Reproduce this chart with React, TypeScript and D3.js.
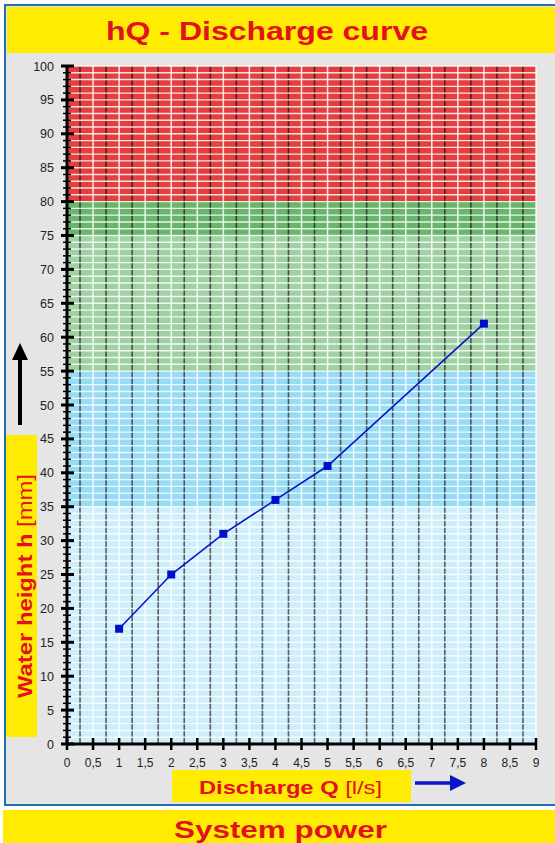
import * as d3 from "d3";

// measured points of the hQ curve
const dischargeQ = [1, 2, 3, 4, 5, 8];
const waterHeight = [17, 25, 31, 36, 41, 62];

// x axis ticks every 0.5 l/s, y axis every 5 mm
const xTickValues = d3.range(0, 9.01, 0.5);
const yTickValues = d3.range(0, 101, 5);

// background zones (mm)
const zoneLimits = [0, 35, 55, 75, 80, 100];
const zoneColors = ["#cdeefa", "#98dbf5", "#a0d1a3", "#68b66b", "#e43f3f"];

const W = 555;
const H = 843;
const FONT = "'Liberation Sans', Arial, Helvetica, sans-serif";
const RED = "#e3101e";
const YELLOW = "#ffec00";

export default function App() {
  const x = d3.scaleLinear().domain([0, 9]).range([67, 536]);
  const y = d3.scaleLinear().domain([0, 100]).range([744, 66]);

  const line = d3
    .line<number>()
    .x((_, i) => x(dischargeQ[i]))
    .y((d) => y(d));

  const fmt = (v: number) => d3.format("")(v).replace(".", ",");

  const hLines = d3.range(1, 101, 1);
  const whiteV = d3.range(0.5, 9.01, 0.5);
  const darkV = d3.range(0.25, 9, 0.5);
  const minorY = d3.range(0, 101, 1).filter((v) => v % 5 !== 0);

  return (
    <svg
      width={W}
      height={H}
      style={{ position: "absolute", left: 0, top: 0, background: "#fff" }}
      fontFamily={FONT}
    >
      {/* outer panel */}
      <rect x={5} y={5} width={560} height={800} fill="#e5e5e5" stroke="#1f6fb3" strokeWidth={2} />
      <rect x={7} y={7} width={550} height={46} fill={YELLOW} />
      <text
        x={106}
        y={40}
        fontSize={26}
        fontWeight="bold"
        fill={RED}
        textLength={322}
        lengthAdjust="spacingAndGlyphs"
      >
        hQ - Discharge curve
      </text>

      {/* zones */}
      {zoneColors.map((c, i) => (
        <rect
          key={c}
          x={x(0)}
          y={y(zoneLimits[i + 1])}
          width={x(9) - x(0)}
          height={y(zoneLimits[i]) - y(zoneLimits[i + 1])}
          fill={c}
        />
      ))}

      {/* grid */}
      {darkV.map((v) => (
        <line key={"d" + v} x1={x(v)} x2={x(v)} y1={y(100)} y2={y(0)} stroke="#000" strokeOpacity={0.6} strokeWidth={1.6} />
      ))}
      {hLines.map((v) => (
        <line key={"h" + v} x1={x(0)} x2={x(9)} y1={y(v)} y2={y(v)} stroke="#fff" strokeOpacity={0.85} strokeWidth={1.4} />
      ))}
      {whiteV.map((v) => (
        <line key={"w" + v} x1={x(v)} x2={x(v)} y1={y(100)} y2={y(0)} stroke="#fff" strokeOpacity={0.85} strokeWidth={1.5} />
      ))}

      {/* y axis */}
      <line x1={x(0)} x2={x(0)} y1={y(100) - 1} y2={y(0) + 1} stroke="#000" strokeWidth={3} />
      {minorY.map((v) => (
        <line key={"my" + v} x1={63} x2={71} y1={y(v)} y2={y(v)} stroke="#000" strokeWidth={1.5} />
      ))}
      {yTickValues.map((v) => (
        <g key={"y" + v}>
          <line x1={61} x2={74} y1={y(v)} y2={y(v)} stroke="#000" strokeWidth={3} />
          <text x={54} y={y(v) + 4.5} textAnchor="end" fontSize={12.5} fill="#222">
            {v}
          </text>
        </g>
      ))}

      {/* x axis */}
      <line x1={x(0) - 1} x2={x(9) + 1} y1={y(0)} y2={y(0)} stroke="#000" strokeWidth={3} />
      {xTickValues.map((v) => (
        <g key={"x" + v}>
          <line x1={x(v)} x2={x(v)} y1={738} y2={750} stroke="#000" strokeWidth={2.5} />
          <text x={x(v)} y={767} textAnchor="middle" fontSize={12} fill="#222">
            {fmt(v)}
          </text>
        </g>
      ))}

      {/* curve */}
      <path d={line(waterHeight) || ""} fill="none" stroke="#0a14c8" strokeWidth={1.6} />
      {waterHeight.map((v, i) => (
        <rect key={"p" + i} x={x(dischargeQ[i]) - 4} y={y(v) - 4} width={8} height={8} fill="#0010c8" />
      ))}

      {/* y title */}
      <rect x={6} y={435} width={31} height={302} fill={YELLOW} />
      <text
        transform="translate(32,698) rotate(-90)"
        fontSize={19.5}
        fill={RED}
        textLength={224}
        lengthAdjust="spacingAndGlyphs"
      >
        <tspan fontWeight="bold">Water height h </tspan>
        <tspan>[mm]</tspan>
      </text>
      <line x1={20} x2={20} y1={425} y2={358} stroke="#000" strokeWidth={4} />
      <path d="M12,360 L20,343 L28,360 Z" fill="#000" />

      {/* x title */}
      <rect x={172} y={770} width={239} height={32} fill={YELLOW} />
      <text x={199} y={794} fontSize={19} fill={RED} textLength={183} lengthAdjust="spacingAndGlyphs">
        <tspan fontWeight="bold">Discharge Q </tspan>
        <tspan>[l/s]</tspan>
      </text>
      <line x1={415} x2={452} y1={783} y2={783} stroke="#0a14c8" strokeWidth={3.5} />
      <path d="M450,775 L466,783 L450,791 Z" fill="#0a14c8" />

      {/* footer */}
      <rect x={3} y={810} width={552} height={33} fill={YELLOW} />
      <text x={174} y={838} fontSize={23} fontWeight="bold" fill={RED} textLength={213} lengthAdjust="spacingAndGlyphs">
        System power
      </text>
    </svg>
  );
}
